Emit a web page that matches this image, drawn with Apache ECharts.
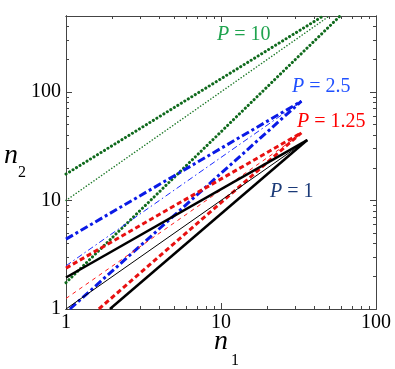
<!DOCTYPE html>
<html>
<head>
<meta charset="utf-8">
<script src="https://cdn.jsdelivr.net/npm/echarts@6/dist/echarts.min.js"></script>
<style>
  html, body { margin: 0; padding: 0; background: #fff; }
  #chart { width: 395px; height: 369px; }
</style>
</head>
<body>
<div id="chart"></div>
<script>
// tick values
const majorTicks = [1, 10, 100]
const minorTicksX = [2, 3, 4, 5, 6, 7, 8, 9, 20, 30, 40, 50, 60, 70, 80, 90]
const minorTicksY = [2, 3, 4, 5, 6, 7, 8, 9, 20, 30, 40, 50, 60, 70, 80, 90, 200, 300, 400]

// P = 1
const p1Upper = [[1, 1.95], [36, 36]]
const p1Lower = [[1.92, 1], [36, 36]]
const p1Diag = [[1, 1], [36, 36]]
// P = 1.25
const p125Upper = [[1, 2.38], [33, 42]]
const p125Lower = [[1.63, 1], [33, 42]]
const p125Diag = [[1, 1.25], [33, 41]]
// P = 2.5
const p25Upper = [[1, 4.4], [33, 82]]
const p25Lower = [[1.06, 1], [33, 82]]
const p25Diag = [[1, 2.5], [33, 82]]
// P = 10
const p10Upper = [[1, 17.5], [45.6, 500]]
const p10Lower = [[1, 1.75], [58.6, 500]]
const p10Diag = [[1, 10], [50, 500]]

const serif = 'Liberation Serif'
const frame = '#444'

// axis that only carries the tick labels
function labelAxis(pos, max, margin) {
  return {
    type: 'log', logBase: 10, min: 1, max: max, position: pos,
    axisLine: { show: true, lineStyle: { color: frame, width: 1 } },
    axisTick: { show: false },
    axisLabel: {
      show: true, customValues: majorTicks,
      fontFamily: serif, fontSize: 20, color: '#000', margin: margin
    },
    splitLine: { show: false }
  }
}
// axes that only carry inside ticks
function tickAxis(pos, max, vals, len) {
  return {
    type: 'log', logBase: 10, min: 1, max: max, position: pos,
    axisLine: { show: true, lineStyle: { color: frame, width: 1 } },
    axisTick: {
      show: true, inside: true, length: len,
      lineStyle: { color: frame, width: 1 },
      customValues: vals
    },
    axisLabel: { show: false },
    splitLine: { show: false }
  }
}

function line(data, color, width, type, cap) {
  return {
    type: 'line', data: data, showSymbol: false, silent: true,
    animation: false,
    lineStyle: { color: color, width: width, type: type, cap: cap || 'butt' }
  }
}

// text placed with title components
function txt(x, y, text, color, size, italic) {
  return {
    text: text, left: x, top: y, padding: 0,
    textStyle: {
      fontFamily: serif, fontSize: size, fontWeight: 'normal',
      fontStyle: italic ? 'italic' : 'normal', color: color,
      rich: { i: { fontStyle: 'italic', fontFamily: serif, fontSize: size, color: color } }
    }
  }
}

const chart = echarts.init(document.getElementById('chart'))
chart.setOption({
  title: [
    txt(217, 25, '{i|P} = 10', '#1fa34e', 20),
    txt(292, 77, '{i|P} = 2.5', '#2050ff', 20),
    txt(297, 112, '{i|P} = 1.25', '#ff0000', 20),
    txt(270, 182, '{i|P} = 1', '#1b3a78', 20),
    txt(4, 142, 'n', '#000', 28, true),
    txt(18, 165, '2', '#000', 16),
    txt(214, 328, 'n', '#000', 28, true),
    txt(231, 353, '1', '#000', 16)
  ],
  grid: { left: 66, right: 19, top: 16, bottom: 60 },
  xAxis: [
    labelAxis('bottom', 100, 4),
    tickAxis('bottom', 100, majorTicks, 6),
    tickAxis('bottom', 100, minorTicksX, 3),
    tickAxis('top', 100, majorTicks, 6),
    tickAxis('top', 100, minorTicksX, 3)
  ],
  yAxis: [
    labelAxis('left', 500, 5),
    tickAxis('left', 500, majorTicks, 6),
    tickAxis('left', 500, minorTicksY, 3),
    tickAxis('right', 500, majorTicks, 6),
    tickAxis('right', 500, minorTicksY, 3)
  ],
  series: [
    line(p10Diag, '#1f7a2a', 1.5, [0.1, 3], 'round'),
    line(p10Upper, '#0f6a1c', 3, [0.1, 4], 'round'),
    line(p10Lower, '#0f6a1c', 3, [0.1, 4], 'round'),
    line(p25Diag, '#1a2aff', 1, [6, 3, 1.5, 3]),
    line(p25Upper, '#0a1ae6', 3, [8, 3, 3, 3]),
    line(p25Lower, '#0a1ae6', 3, [8, 3, 3, 3]),
    line(p125Diag, '#ff1a1a', 1, [4, 4]),
    line(p125Upper, '#e81010', 3, [5, 3]),
    line(p125Lower, '#e81010', 3, [5, 3]),
    line(p1Diag, '#000', 1, 'solid'),
    line(p1Upper, '#000', 2.5, 'solid'),
    line(p1Lower, '#000', 2.5, 'solid')
  ]
})
</script>
</body>
</html>
